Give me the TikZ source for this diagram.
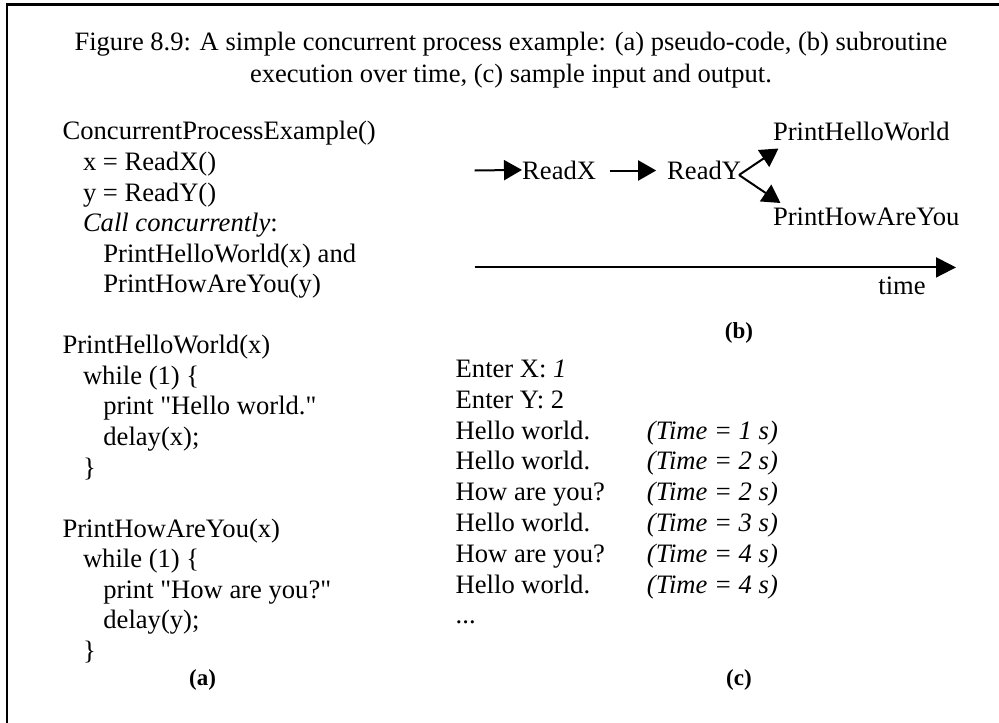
\documentclass[tikz,border=0pt]{standalone}
\usepackage{fontspec}
\setmainfont{Liberation Serif}
\usetikzlibrary{arrows.meta}
\begin{document}
\begin{tikzpicture}[x=1pt,y=-1pt,
  txt/.style={anchor=base west,inner sep=0pt,font=\fontsize{26.6}{30.6}\selectfont},
  captxt/.style={anchor=base,inner sep=0pt,font=\fontsize{26.5}{30}\selectfont},
  lbl/.style={anchor=base,inner sep=0pt,font=\fontsize{23}{26}\selectfont\bfseries},
  arr/.style={line width=2pt,-{Triangle[length=18pt,width=20pt]}},
  bigarr/.style={line width=2pt,-{Triangle[length=20pt,width=20pt]}}]
\useasboundingbox (0,0) rectangle (999,723);
\draw[line width=2.2pt] (7,1300) -- (7,4.5) -- (1300,4.5);
% caption
\node[captxt] (cap1) at (511,50) {Figure 8.9: A simple concurrent process example: (a) pseudo-code, (b) subroutine};
\node[captxt] (cap2) at (511,82.3) {execution over time, (c) sample input and output.};
% (a) code
\def\L#1{139.9+30.56*#1}
\def\q{\textquotedbl}
\node[txt] (c0) at (62.4,{\L{0}}) {ConcurrentProcessExample()};
\node[txt] (c1) at (82.8,{\L{1}}) {x = ReadX()};
\node[txt] (c2) at (82.8,{\L{2}}) {y = ReadY()};
\node[txt] (c3) at (82.8,{\L{3}}) {\textit{Call concurrently}:};
\node[txt] (c4) at (103.2,{\L{4}}) {PrintHelloWorld(x) and};
\node[txt] (c5) at (103.2,{\L{5}}) {PrintHowAreYou(y)};
\node[txt] (c7) at (62.4,{\L{7}}) {PrintHelloWorld(x)};
\node[txt] (c8) at (82.8,{\L{8}}) {while (1) \{};
\node[txt] (c9) at (103.2,{\L{9}}) {print \q Hello world.\q};
\node[txt] (c10) at (103.2,{\L{10}}) {delay(x);};
\node[txt] (c11) at (82.8,{\L{11}}) {\}};
\node[txt] (c13) at (62.4,{\L{13}}) {PrintHowAreYou(x)};
\node[txt] (c14) at (82.8,{\L{14}}) {while (1) \{};
\node[txt] (c15) at (103.2,{\L{15}}) {print \q How are you?\q};
\node[txt] (c16) at (103.2,{\L{16}}) {delay(y);};
\node[txt] (c17) at (82.8,{\L{17}}) {\}};
\node[lbl] (la) at (202.6,685) {(a)};
% (b) diagram
\node[txt] (rx) at (522,179) {ReadX};
\node[txt] (ry) at (667,179) {ReadY};
\node[txt] (phw) at (772.8,140) {PrintHelloWorld};
\node[txt] (pha) at (772.8,225.5) {PrintHowAreYou};
\coordinate (s0) at (474.6,170.5);
\coordinate (s1) at (609.7,170.5);
\coordinate (t1) at (656.2,170.5);
\coordinate (fork) at (739,175);
\coordinate (tu) at (778.5,148.5);
\coordinate (td) at (780.5,203);
\draw[arr] (s0) -- (rx.west);
\draw[arr] (s1) -- (t1);
\draw[arr] (fork) -- (tu);
\draw[arr] (fork) -- (td);
\coordinate (a0) at (474.6,267.4);
\coordinate (a1) at (956,267.4);
\draw[bigarr] (a0) -- (a1);
\node[txt,anchor=base] (time) at (902,294) {time};
\node[lbl] (lb) at (739,338) {(b)};
% (c) output
\def\M#1{377.4+30.8*#1}
\node[txt] (o0) at (455.5,{\M{0}}) {Enter X: \textit{1}};
\node[txt] (o1) at (455.5,{\M{1}}) {Enter Y: 2};
\node[txt] (o2) at (455.5,{\M{2}}) {Hello world.};
\node[txt] (o3) at (455.5,{\M{3}}) {Hello world.};
\node[txt] (o4) at (455.5,{\M{4}}) {How are you?};
\node[txt] (o5) at (455.5,{\M{5}}) {Hello world.};
\node[txt] (o6) at (455.5,{\M{6}}) {How are you?};
\node[txt] (o7) at (455.5,{\M{7}}) {Hello world.};
\node[txt] (o8) at (455.5,{\M{8}}) {...};
\node[txt] (t2) at (646.7,{\M{2}}) {\textit{(Time = 1 s)}};
\node[txt] (t3) at (646.7,{\M{3}}) {\textit{(Time = 2 s)}};
\node[txt] (t4) at (646.7,{\M{4}}) {\textit{(Time = 2 s)}};
\node[txt] (t5) at (646.7,{\M{5}}) {\textit{(Time = 3 s)}};
\node[txt] (t6) at (646.7,{\M{6}}) {\textit{(Time = 4 s)}};
\node[txt] (t7) at (646.7,{\M{7}}) {\textit{(Time = 4 s)}};
\node[lbl] (lc) at (739,685) {(c)};
\end{tikzpicture}
\end{document}
